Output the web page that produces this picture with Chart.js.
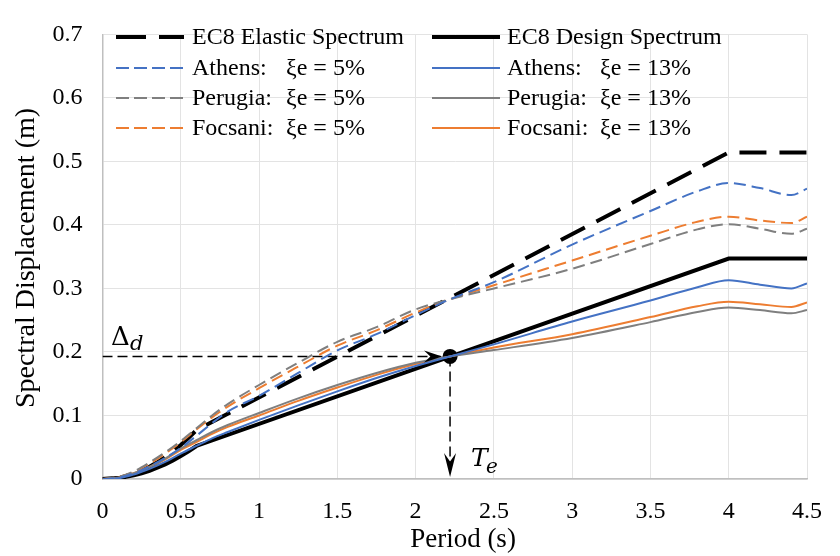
<!DOCTYPE html>
<html>
<head>
<meta charset="utf-8">
<script src="https://cdn.jsdelivr.net/npm/chart.js@4.4.0/dist/chart.umd.min.js"></script>
<style>
  html, body { margin: 0; padding: 0; background: #fff; }
  #wrap { width: 840px; height: 556px; }
</style>
</head>
<body>
<div id="wrap"><canvas id="spectra"></canvas></div>
<script>
// Data
const xTickLabels = ['0', '0.5', '1', '1.5', '2', '2.5', '3', '3.5', '4', '4.5']
const yTickLabels = ['0', '0.1', '0.2', '0.3', '0.4', '0.5', '0.6', '0.7']

// EC8 code spectra (m)
const ec8Periods = [0, 0.1, 0.15, 0.2, 0.25, 0.3, 0.35, 0.4, 0.45, 0.5, 0.55, 0.6, 4.0, 4.5]
const ec8Elastic = [0, 0.001, 0.0048, 0.0086, 0.0134, 0.0193, 0.0262, 0.0342, 0.0433, 0.0535, 0.0647, 0.077, 0.514, 0.514]
const ec8Design = [0, 0.001, 0.0033, 0.0058, 0.009, 0.013, 0.0177, 0.023, 0.0292, 0.036, 0.0437, 0.052, 0.347, 0.347]

// record spectra (m)
const periods = [0, 0.1, 0.2, 0.3, 0.4, 0.5, 0.6, 0.7, 0.8, 1.0, 1.25, 1.5, 1.75, 2.0, 2.22, 2.5, 3.0, 3.5, 3.8, 4.0, 4.2, 4.4, 4.5]
const athens5 = [0, 0.002, 0.009, 0.020, 0.033, 0.049, 0.068, 0.088, 0.106, 0.131, 0.167, 0.2025, 0.228, 0.258, 0.283, 0.310, 0.369, 0.422, 0.453, 0.466, 0.458, 0.447, 0.457]
const perugia5 = [0, 0.003, 0.012, 0.026, 0.042, 0.060, 0.080, 0.100, 0.118, 0.148, 0.183, 0.216, 0.239, 0.267, 0.283, 0.300, 0.331, 0.370, 0.393, 0.401, 0.394, 0.386, 0.394]
const focsani5 = [0, 0.003, 0.011, 0.024, 0.040, 0.058, 0.078, 0.097, 0.114, 0.143, 0.177, 0.210, 0.234, 0.262, 0.283, 0.305, 0.344, 0.383, 0.405, 0.413, 0.407, 0.403, 0.413]
const athens13 = [0, 0.001, 0.007, 0.016, 0.027, 0.040, 0.052, 0.064, 0.074, 0.093, 0.116, 0.138, 0.159, 0.178, 0.193, 0.212, 0.248, 0.281, 0.302, 0.313, 0.306, 0.300, 0.308]
const perugia13 = [0, 0.002, 0.009, 0.019, 0.032, 0.048, 0.061, 0.074, 0.085, 0.104, 0.127, 0.148, 0.167, 0.183, 0.193, 0.203, 0.222, 0.247, 0.263, 0.270, 0.266, 0.261, 0.266]
const focsani13 = [0, 0.002, 0.009, 0.019, 0.031, 0.046, 0.058, 0.071, 0.082, 0.100, 0.123, 0.144, 0.164, 0.181, 0.193, 0.207, 0.228, 0.255, 0.272, 0.279, 0.275, 0.271, 0.278]

// effective period / design displacement marker
const teValue = 2.22
const deltaD = 0.193

const BLUE = '#4472C4'
const GREY = '#7F7F7F'
const ORANGE = '#ED7D31'
const FONT = "'Liberation Serif', 'Times New Roman', serif"

const pts = (xs, ys) => xs.map((x, i) => ({ x: x, y: ys[i] }))

function recordSet(label, data, color, dashed) {
  return {
    label: label,
    data: pts(periods, data),
    borderColor: color,
    borderWidth: 2,
    borderDash: dashed ? [12, 6] : [],
    cubicInterpolationMode: 'monotone',
    pointRadius: 0
  }
}

const datasets = [
  recordSet('Athens: ξe = 5%', athens5, BLUE, true),
  recordSet('Perugia: ξe = 5%', perugia5, GREY, true),
  recordSet('Focsani: ξe = 5%', focsani5, ORANGE, true),
  recordSet('Athens: ξe = 13%', athens13, BLUE, false),
  recordSet('Perugia: ξe = 13%', perugia13, GREY, false),
  recordSet('Focsani: ξe = 13%', focsani13, ORANGE, false),
  {
    label: 'EC8 Elastic Spectrum',
    data: pts(ec8Periods, ec8Elastic),
    borderColor: '#000',
    borderWidth: 4,
    borderDash: [27, 13],
    tension: 0,
    pointRadius: 0
  },
  {
    label: 'EC8 Design Spectrum',
    data: pts(ec8Periods, ec8Design),
    borderColor: '#000',
    borderWidth: 4,
    tension: 0,
    pointRadius: 0
  },
  {
    label: 'guideH',
    data: [{ x: 0, y: deltaD }, { x: teValue - 0.06, y: deltaD }],
    borderColor: '#000',
    borderWidth: 1.5,
    borderDash: [10, 5],
    pointRadius: 0
  },
  {
    label: 'guideV',
    data: [{ x: teValue, y: deltaD }, { x: teValue, y: 0.012 }],
    borderColor: '#000',
    borderWidth: 1.5,
    borderDash: [10, 5],
    pointRadius: 0
  },
  {
    label: 'point',
    data: [{ x: teValue, y: deltaD }],
    showLine: false,
    pointRadius: 7.5,
    pointBackgroundColor: '#000',
    pointBorderWidth: 0
  }
]

// legend rows drawn by hand in two columns
const legendRows = [
  { col: 0, row: 0, name: 'EC8 Elastic Spectrum', xi: '', color: '#000', width: 4, dash: [30, 13] },
  { col: 0, row: 1, name: 'Athens:', xi: 'ξe = 5%', color: BLUE, width: 2, dash: [13, 5] },
  { col: 0, row: 2, name: 'Perugia:', xi: 'ξe = 5%', color: GREY, width: 2, dash: [13, 5] },
  { col: 0, row: 3, name: 'Focsani:', xi: 'ξe = 5%', color: ORANGE, width: 2, dash: [13, 5] },
  { col: 1, row: 0, name: 'EC8 Design Spectrum', xi: '', color: '#000', width: 4, dash: [] },
  { col: 1, row: 1, name: 'Athens:', xi: 'ξe = 13%', color: BLUE, width: 2, dash: [] },
  { col: 1, row: 2, name: 'Perugia:', xi: 'ξe = 13%', color: GREY, width: 2, dash: [] },
  { col: 1, row: 3, name: 'Focsani:', xi: 'ξe = 13%', color: ORANGE, width: 2, dash: [] }
]

function arrowHead(ctx, x, y, angle, len, half) {
  ctx.save()
  ctx.translate(x, y)
  ctx.rotate(angle)
  ctx.beginPath()
  ctx.moveTo(0, 0)
  ctx.lineTo(-len, -half)
  ctx.lineTo(-len * 0.65, 0)
  ctx.lineTo(-len, half)
  ctx.closePath()
  ctx.fillStyle = '#000'
  ctx.fill()
  ctx.restore()
}

const extras = {
  id: 'extras',
  afterDatasetsDraw(chart) {
    const ctx = chart.ctx
    const xs = chart.scales.x
    const ys = chart.scales.y
    const area = chart.chartArea

    // arrow heads on guide lines
    const px = xs.getPixelForValue(teValue)
    const py = ys.getPixelForValue(deltaD)
    arrowHead(ctx, px - 8, py, 0, 18, 6)
    arrowHead(ctx, px, area.bottom - 2, Math.PI / 2, 24, 6)

    // annotation labels
    ctx.save()
    ctx.fillStyle = '#000'
    ctx.textBaseline = 'alphabetic'
    ctx.textAlign = 'left'
    ctx.font = "26px 'DejaVu Serif', serif"
    ctx.fillText('Δ', 111, 345)
    ctx.font = "italic 21px 'DejaVu Serif', serif"
    ctx.fillText('d', 130, 350)
    ctx.font = "italic 25px 'DejaVu Serif', serif"
    ctx.fillText('T', 471, 466)
    ctx.font = "italic 20px 'DejaVu Serif', serif"
    ctx.fillText('e', 486, 473)
    ctx.restore()

    // legend
    ctx.save()
    ctx.font = '24px ' + FONT
    ctx.textBaseline = 'middle'
    ctx.fillStyle = '#000'
    const colX = [[116, 184, 192, 286], [432, 500, 507, 600]]
    const rowY = [37, 68, 98, 128]
    legendRows.forEach(r => {
      const c = colX[r.col]
      const y = rowY[r.row]
      ctx.beginPath()
      ctx.setLineDash(r.dash)
      ctx.lineWidth = r.width
      ctx.strokeStyle = r.color
      ctx.moveTo(c[0], y)
      ctx.lineTo(c[1], y)
      ctx.stroke()
      ctx.setLineDash([])
      ctx.fillText(r.name, c[2], y + 1)
      if (r.xi) ctx.fillText(r.xi, c[3], y + 1)
    })

    // axis titles
    ctx.font = '27px ' + FONT
    ctx.textAlign = 'center'
    ctx.fillText('Period (s)', 463, 540)
    ctx.font = '28px ' + FONT
    ctx.textBaseline = 'alphabetic'
    ctx.translate(34, 258)
    ctx.rotate(-Math.PI / 2)
    ctx.fillText('Spectral Displacement (m)', 0, 0)
    ctx.restore()
  }
}

const chart = new Chart(document.getElementById('spectra'), {
  type: 'line',
  data: { datasets: datasets },
  options: {
    responsive: true,
    maintainAspectRatio: false,
    animation: false,
    layout: { padding: { left: 0, right: 19, top: 19, bottom: 0 } },
    plugins: {
      legend: { display: false },
      tooltip: { enabled: false }
    },
    scales: {
      x: {
        type: 'linear',
        min: 0,
        max: 4.5,
        afterFit: s => { s.height = 77 },
        grid: { color: '#e3e3e3', lineWidth: 1, drawTicks: false },
        border: { color: '#bfbfbf', width: 1.5 },
        ticks: {
          stepSize: 0.5,
          padding: 18,
          color: '#000',
          font: { family: FONT, size: 24 },
          callback: (v, i) => xTickLabels[i]
        }
      },
      y: {
        type: 'linear',
        min: 0,
        max: 0.7,
        afterFit: s => { s.width = 102.5 },
        grid: { color: '#e3e3e3', lineWidth: 1, drawTicks: false },
        border: { color: '#bfbfbf', width: 1.5 },
        ticks: {
          stepSize: 0.1,
          padding: 20,
          color: '#000',
          font: { family: FONT, size: 24 },
          callback: (v, i) => yTickLabels[i]
        }
      }
    }
  },
  plugins: [extras]
})
</script>
</body>
</html>
